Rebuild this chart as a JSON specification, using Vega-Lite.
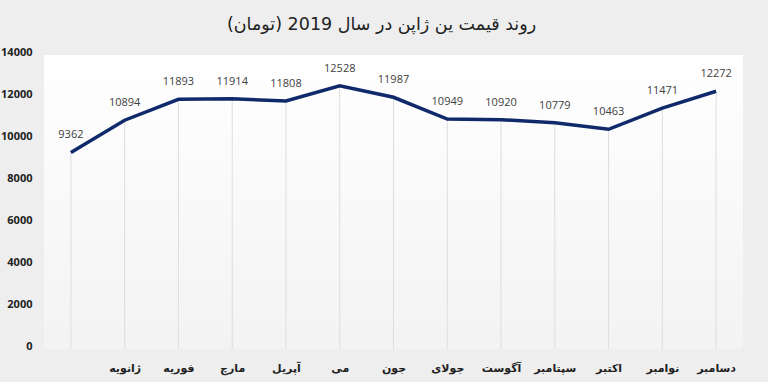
{
  "$schema": "https://vega.github.io/schema/vega-lite/v6.json",
  "autosize": "none",
  "width": 699,
  "height": 294,
  "padding": {"left": 44, "top": 55, "right": 25, "bottom": 33},
  "background": "#eeeeee",
  "title": {
    "text": "روند قیمت ین ژاپن در سال 2019 (تومان)",
    "font": "DejaVu Sans",
    "fontSize": 17.5,
    "fontWeight": "normal",
    "color": "#222222",
    "anchor": "middle",
    "dx": -12,
    "offset": 13
  },
  "config": {
    "view": {
      "stroke": null,
      "fill": {"gradient": "linear", "x1": 0, "y1": 0, "x2": 0, "y2": 1,
        "stops": [{"offset": 0, "color": "#ffffff"}, {"offset": 1, "color": "#f3f3f3"}]}
    }
  },
  "data": {
    "values": [
      {"month": "", "price": 9362},
      {"month": "ژانویه", "price": 10894},
      {"month": "فوریه", "price": 11893},
      {"month": "مارچ", "price": 11914},
      {"month": "آپریل", "price": 11808},
      {"month": "می", "price": 12528},
      {"month": "جون", "price": 11987},
      {"month": "جولای", "price": 10949},
      {"month": "آگوست", "price": 10920},
      {"month": "سپتامبر", "price": 10779},
      {"month": "اکتبر", "price": 10463},
      {"month": "نوامبر", "price": 11471},
      {"month": "دسامبر", "price": 12272}
    ]
  },
  "encoding": {
    "x": {
      "field": "month", "type": "ordinal", "sort": null,
      "scale": {"type": "point", "padding": 0.5},
      "axis": {
        "title": null, "domain": false, "ticks": false, "grid": false,
        "labelAngle": 0, "labelPadding": 13,
        "labelFont": "DejaVu Sans", "labelFontSize": 11, "labelFontWeight": "bold",
        "labelColor": "#222222"
      }
    },
    "y": {
      "field": "price", "type": "quantitative",
      "scale": {"domain": [0, 14000], "nice": false},
      "axis": {
        "title": null, "domain": false, "ticks": false, "grid": false,
        "values": [0, 2000, 4000, 6000, 8000, 10000, 12000, 14000],
        "format": "d",
        "labelPadding": 12, "labelOffset": -3,
        "labelFont": "Open Sans", "labelFontSize": 11, "labelFontWeight": "bold",
        "labelColor": "#222222"
      }
    }
  },
  "layer": [
    {
      "mark": {"type": "rule", "color": "#dddddd", "strokeWidth": 1},
      "encoding": {"y2": {"datum": 0}}
    },
    {
      "mark": {"type": "line", "color": "#10296b", "strokeWidth": 3.5}
    },
    {
      "mark": {"type": "text", "dy": -17, "font": "Open Sans", "fontSize": 11, "color": "#404040"},
      "encoding": {"text": {"field": "price", "type": "quantitative", "format": "d"}}
    }
  ]
}
